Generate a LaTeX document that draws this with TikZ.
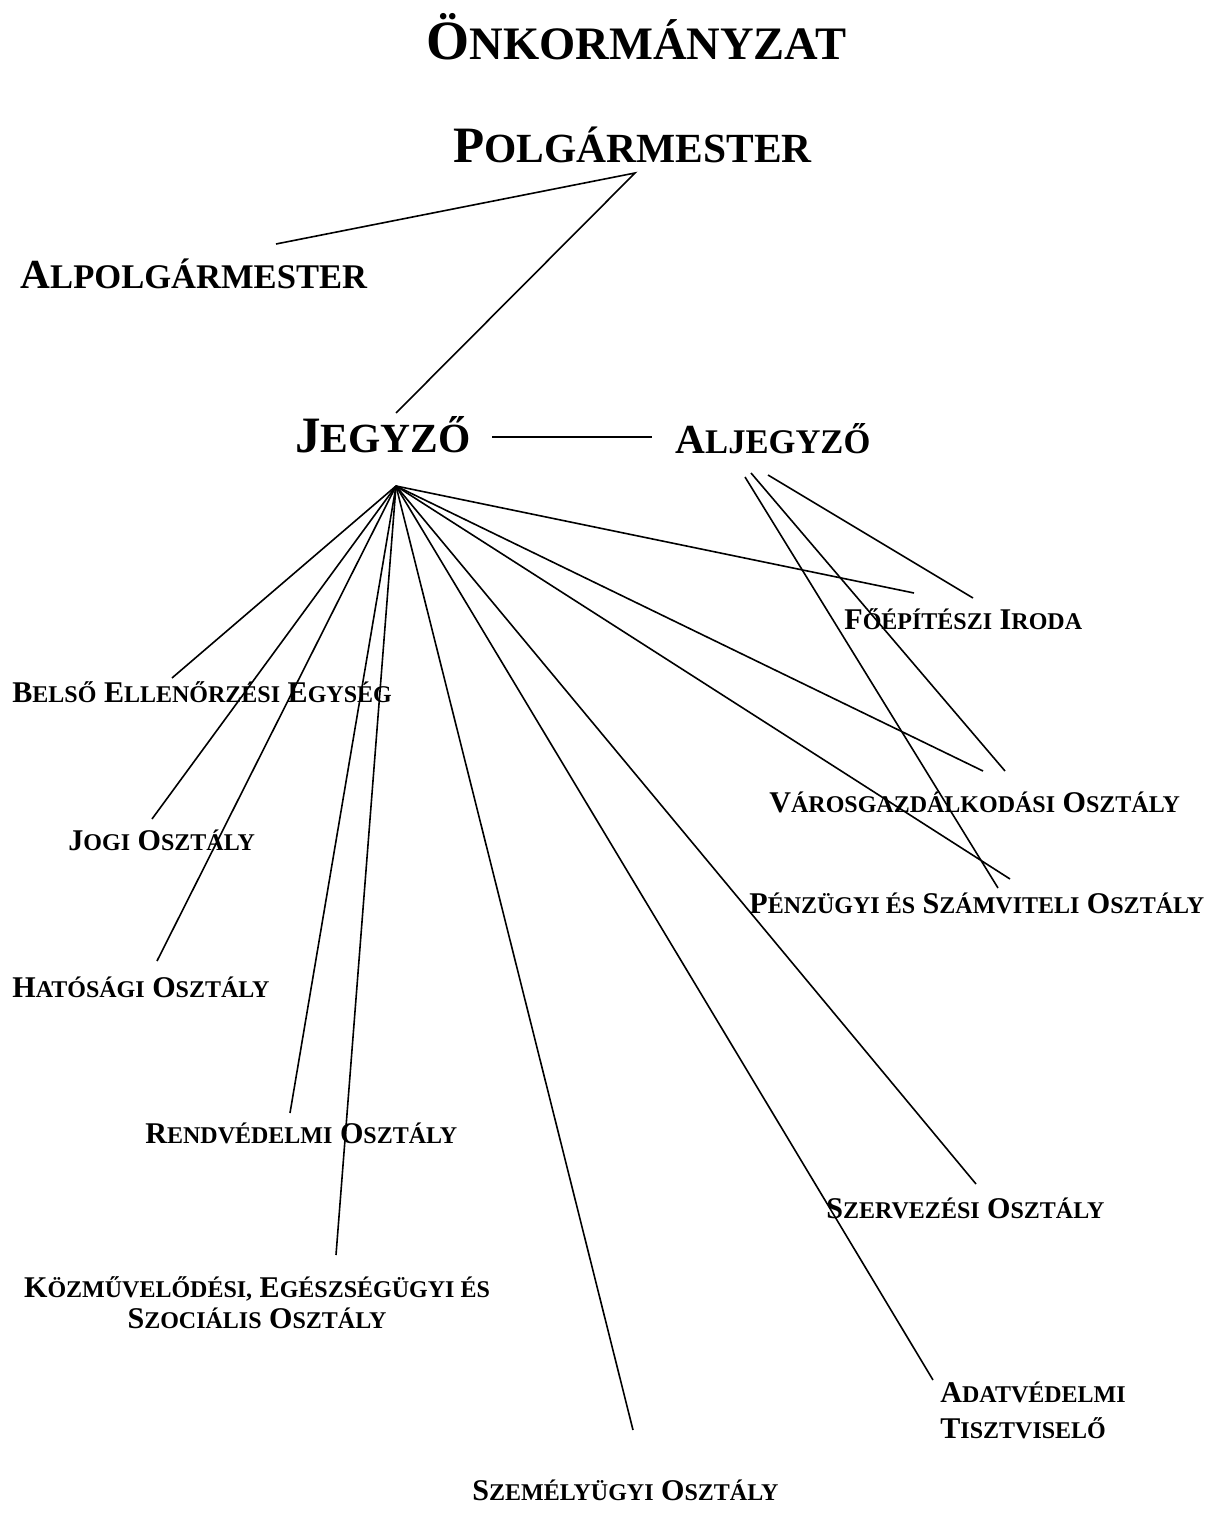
\documentclass[tikz,border=0pt]{standalone}
\usepackage{fontspec}
\usepackage{relsize}
\setmainfont{Liberation Serif}
\usepackage{tikz}
\tikzset{
  vonal/.style={line width=0.8pt},
  cimsor/.style={anchor=base west,inner sep=0pt,font=\fontsize{27.7}{32}\selectfont\bfseries},
  vezeto/.style={anchor=base west,inner sep=0pt,font=\fontsize{25.5}{30}\selectfont\bfseries},
  helyettes/.style={anchor=base west,inner sep=0pt,font=\fontsize{20.65}{25}\selectfont\bfseries},
  osztaly/.style={anchor=base west,inner sep=0pt,font=\fontsize{15.05}{18}\selectfont\bfseries},
}
\newcommand{\kis}[1]{{\relscale{0.84}#1}}

\begin{document}
\begin{tikzpicture}[x=0.5pt,y=-0.5pt]
\useasboundingbox (0,0) rectangle (1230,1514);
\node[cimsor] (onk) at (426,60) {Ö\kis{NKORMÁNYZAT}};
\node[vezeto] (polg) at (453,163) {P\kis{OLGÁRMESTER}};
\node[helyettes] (alpolg) at (20,288) {A\kis{LPOLGÁRMESTER}};
\node[vezeto] (jegyzo) at (295,452) {J\kis{EGYZŐ}};
\node[helyettes] (aljegyzo) at (675,453) {A\kis{LJEGYZŐ}};

\coordinate (polg-a) at (635,173);
\coordinate (alpolg-f) at (276,244);
\coordinate (jegyzo-f) at (396,413);
\coordinate (jegyzo-j) at (492,437);
\coordinate (aljegyzo-b) at (652,437);
\coordinate (jhub) at (396,486);
\coordinate (aj-1) at (768,475);
\coordinate (aj-2) at (751,473);
\coordinate (aj-3) at (745,477);

\foreach \nev/\xx/\yy/\vx/\vy/\szoveg in {%
   belso/12/702/172/678/{B\kis{ELSŐ} E\kis{LLENŐRZÉSI} E\kis{GYSÉG}},
   jogi/68/850/152/819/{J\kis{OGI} O\kis{SZTÁLY}},
   hatosagi/12/997/157/961/{H\kis{ATÓSÁGI} O\kis{SZTÁLY}},
   rendv/145/1143/290/1113/{R\kis{ENDVÉDELMI} O\kis{SZTÁLY}},
   szemely/472/1500/633/1430/{S\kis{ZEMÉLYÜGYI} O\kis{SZTÁLY}},
   szerv/826/1218/976/1184/{S\kis{ZERVEZÉSI} O\kis{SZTÁLY}},
   penz/749/913/1010/879/{P\kis{ÉNZÜGYI ÉS} S\kis{ZÁMVITELI} O\kis{SZTÁLY}},
   varos/769/812/983/771/{V\kis{ÁROSGAZDÁLKODÁSI} O\kis{SZTÁLY}},
   foep/844/629/914/593/{F\kis{ŐÉPÍTÉSZI} I\kis{RODA}}}{
  \node[osztaly] (\nev) at (\xx,\yy) {\szoveg};
  \coordinate (\nev-v) at (\vx,\vy);
}
\node[osztaly,align=center,anchor=base,font=\fontsize{15.05}{15.5}\selectfont\bfseries]
  (kozmuv) at (257,1328) {K\kis{ÖZMŰVELŐDÉSI,} E\kis{GÉSZSÉGÜGYI ÉS}\\S\kis{ZOCIÁLIS} O\kis{SZTÁLY}};
\coordinate (kozmuv-v) at (336,1255);
\node[osztaly,align=left] (adat) at (940,1438) {A\kis{DATVÉDELMI}\\T\kis{ISZTVISELŐ}};
\coordinate (adat-v) at (933,1380);
\coordinate (foep-a) at (973,598);
\coordinate (varos-a) at (1005,771);
\coordinate (penz-a) at (998,888);

\draw[vonal] (alpolg-f) -- (polg-a) -- (jegyzo-f);
\draw[vonal] (jegyzo-j) -- (aljegyzo-b);
\foreach \nev in {belso,jogi,hatosagi,rendv,kozmuv,szemely,adat,szerv,penz,varos,foep}
  \draw[vonal] (jhub) -- (\nev-v);
\draw[vonal] (aj-1) -- (foep-a);
\draw[vonal] (aj-2) -- (varos-a);
\draw[vonal] (aj-3) -- (penz-a);
\end{tikzpicture}
\end{document}
